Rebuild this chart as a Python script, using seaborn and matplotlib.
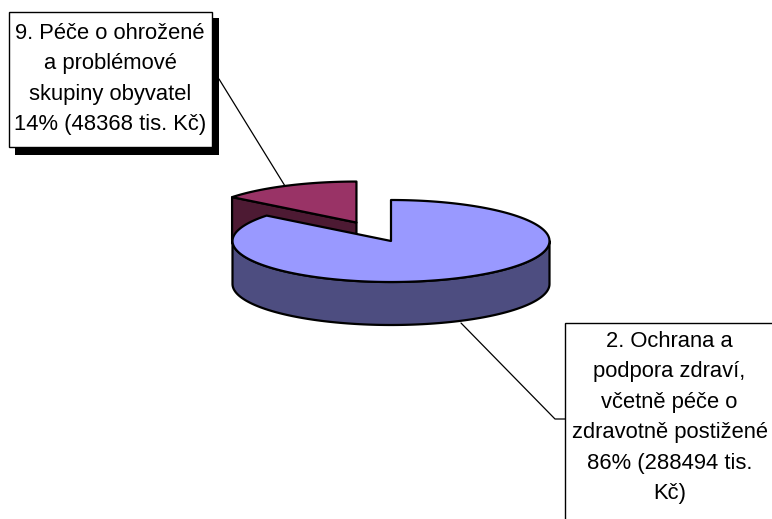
import numpy as np
import matplotlib
matplotlib.use("Agg")
import matplotlib.pyplot as plt
from matplotlib.patches import Polygon, Rectangle
import seaborn as sns

# data
labels = [
    "2. Ochrana a\npodpora zdraví,\nvčetně péče o\nzdravotně postižené\n86% (288494 tis.\nKč)",
    "9. Péče o ohrožené\na problémové\nskupiny obyvatel\n14% (48368 tis. Kč)",
]
values = [288494, 48368]
explode = [0.0, 0.5]
top_colors = ["#9999FF", "#993366"]
side_colors = ["#4D4D80", "#4D1A33"]

sns.set_theme(style="white")
plt.rcParams['font.family'] = ['Liberation Sans', 'DejaVu Sans']

fig = plt.figure(figsize=(7.72, 5.19), dpi=100)
ax = fig.add_axes([0, 0, 1, 1])
ax.set_xlim(0, 772)
ax.set_ylim(519, 0)
ax.axis('off')

# pie geometry in pixels (ellipse centre, half axes, thickness)
cx, cy, a, b, depth = 391, 241, 158.5, 41, 43


def pt(t, ox, oy, dz=0.0):
    r = np.radians(t)
    return (cx + ox + a * np.sin(r), cy + oy - b * np.cos(r) + dz)


fracs = np.array(values) / np.sum(values)
ends = np.cumsum(fracs) * 360
starts = ends - fracs * 360

slices = []
for i in range(len(values)):
    mid = np.radians((starts[i] + ends[i]) / 2)
    ox = explode[i] * a * np.sin(mid)
    oy = -explode[i] * b * np.cos(mid)
    slices.append((i, starts[i], ends[i], ox, oy))

# back slices first
slices.sort(key=lambda s: s[4])

edge = dict(edgecolor="black", linewidth=1.6, joinstyle="round")
for i, t0, t1, ox, oy in slices:
    c = (cx + ox, cy + oy)
    # cut faces
    for t, n in ((t0, t0 - 90), (t1, t1 + 90)):
        if np.cos(np.radians(n)) < -1e-6:
            p = pt(t, ox, oy)
            face = [c, p, (p[0], p[1] + depth), (c[0], c[1] + depth)]
            ax.add_patch(Polygon(face, closed=True, facecolor=side_colors[i], **edge))
    # outer wall, front half only
    w0, w1 = max(t0, 90), min(t1, 270)
    if w1 > w0:
        ts = np.linspace(w0, w1, 120)
        upper = [pt(t, ox, oy) for t in ts]
        lower = [pt(t, ox, oy, depth) for t in ts[::-1]]
        ax.add_patch(Polygon(upper + lower, closed=True, facecolor=side_colors[i], **edge))
    # top
    ts = np.linspace(t0, t1, 240)
    top = [c] + [pt(t, ox, oy) for t in ts]
    ax.add_patch(Polygon(top, closed=True, facecolor=top_colors[i], **edge))

# leader lines
ax.plot([219, 285], [79, 186], color="black", lw=0.9)
ax.plot([461, 555, 565], [323, 419, 419], color="black", lw=0.9)

# label boxes
ax.add_patch(Rectangle((15, 18), 204, 137, facecolor="black", edgecolor="none"))
ax.add_patch(Rectangle((9, 12), 203, 135, facecolor="white", edgecolor="black", lw=1.0))
ax.add_patch(Rectangle((565, 323), 215, 210, facecolor="white", edgecolor="black", lw=1.0))

# label texts, line by line
boxes = [(669.5, 347), (110, 39)]
for i, (x, y0) in enumerate(boxes):
    for k, line in enumerate(labels[i].split("\n")):
        ax.text(x, y0 + k * 30.4, line, ha="center", va="baseline",
                fontsize=15.8, color="black")

fig.savefig("out.png", dpi=100)
